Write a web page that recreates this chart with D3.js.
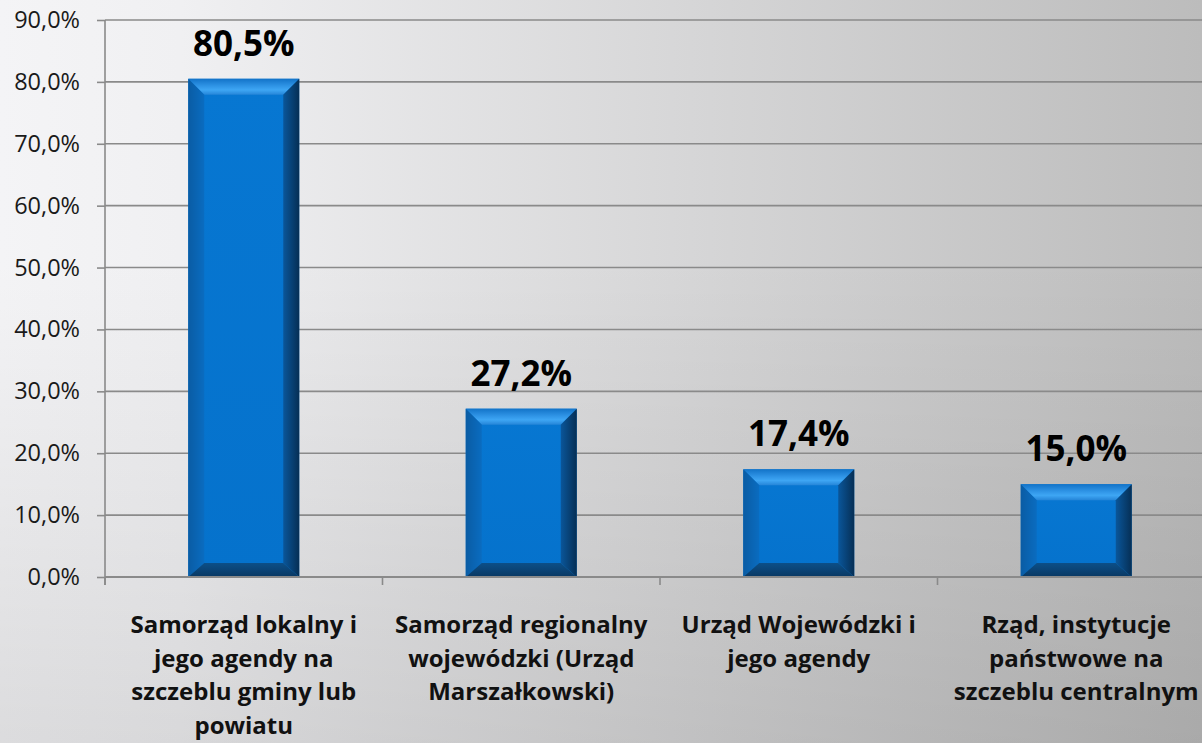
<!DOCTYPE html>
<html>
<head>
<meta charset="utf-8">
<script src="https://cdn.jsdelivr.net/npm/d3@7"></script>
<style>
  html, body { margin: 0; padding: 0; overflow: hidden; }
  svg { display: block; }
</style>
</head>
<body>
<svg id="chart" width="1202" height="743"></svg>
<script>
// ---- data ----
const categories = [
  "Samorząd lokalny i jego agendy na szczeblu gminy lub powiatu",
  "Samorząd regionalny wojewódzki (Urząd Marszałkowski)",
  "Urząd Wojewódzki i jego agendy",
  "Rząd, instytucje państwowe na szczeblu centralnym"
];
const categoryLabelLines = [
  ["Samorząd lokalny i", "jego agendy na", "szczeblu gminy lub", "powiatu"],
  ["Samorząd regionalny", "wojewódzki (Urząd", "Marszałkowski)"],
  ["Urząd Wojewódzki i", "jego agendy"],
  ["Rząd, instytucje", "państwowe na", "szczeblu centralnym"]
];
const values = [0.805, 0.272, 0.174, 0.150];
const yTicks = [0, 0.1, 0.2, 0.3, 0.4, 0.5, 0.6, 0.7, 0.8, 0.9];

// ---- layout ----
const W = 1202, H = 743;
const plot = { left: 105, right: 1215, top: 20, bottom: 577 };
const fmt = v => (v * 100).toFixed(1).replace(".", ",") + "%";

const svg = d3.select("#chart");
const defs = svg.append("defs");

// background gradients
const bgH = defs.append("linearGradient").attr("id", "bgH")
  .attr("x1", 0).attr("y1", 0).attr("x2", 1).attr("y2", 0);
bgH.append("stop").attr("offset", 0).attr("stop-color", "#f4f4f6");
bgH.append("stop").attr("offset", 0.15).attr("stop-color", "#f0f0f2");
bgH.append("stop").attr("offset", 1).attr("stop-color", "#bcbcbc");
const bgV = defs.append("linearGradient").attr("id", "bgV")
  .attr("x1", 0).attr("y1", 0).attr("x2", 0).attr("y2", 1);
bgV.append("stop").attr("offset", 0.35).attr("stop-color", "#000").attr("stop-opacity", 0);
bgV.append("stop").attr("offset", 1).attr("stop-color", "#000").attr("stop-opacity", 0.1);

svg.append("rect").attr("width", W).attr("height", H).attr("fill", "url(#bgH)");
svg.append("rect").attr("width", W).attr("height", H).attr("fill", "url(#bgV)");

// bevel gradients
function lg(id, horiz, stops) {
  const g = defs.append("linearGradient").attr("id", id)
    .attr("x1", 0).attr("y1", 0).attr("x2", horiz ? 1 : 0).attr("y2", horiz ? 0 : 1);
  stops.forEach(s => g.append("stop").attr("offset", s[0]).attr("stop-color", s[1]));
}
lg("bvTop", false, [[0, "#1273c8"], [0.45, "#2f94e6"], [0.7, "#3ea6f4"], [1, "#2585d8"]]);
lg("bvLeft", true, [[0, "#0a5ca4"], [1, "#0a6cc0"]]);
lg("bvRight", true, [[0, "#0a569a"], [1, "#062f55"]]);
lg("bvBottom", false, [[0, "#0c4f88"], [1, "#093863"]]);
lg("bvFace", false, [[0, "#0777d2"], [1, "#0572cc"]]);

// scales
const x = d3.scaleBand().domain(categories).range([plot.left, plot.right]).padding(0);
const y = d3.scaleLinear().domain([0, 0.9]).range([plot.bottom, plot.top]);

// gridlines
svg.append("g").selectAll("line").data(yTicks.filter(d => d > 0)).join("line")
  .attr("x1", plot.left).attr("x2", W)
  .attr("y1", d => y(d)).attr("y2", d => y(d))
  .attr("stroke", "#8a8a8a").attr("stroke-width", 1.6);

// y axis
const yAxis = svg.append("g").attr("transform", `translate(${plot.left},0)`)
  .call(d3.axisLeft(y).tickValues(yTicks).tickFormat(fmt).tickSize(8).tickPadding(17));
yAxis.select(".domain").attr("stroke", "#8a8a8a").attr("stroke-width", 1.6)
  .attr("d", `M0,${plot.top}V${plot.bottom + 8}`);
yAxis.selectAll(".tick line").attr("stroke", "#8a8a8a").attr("stroke-width", 1.6);
yAxis.selectAll(".tick text").attr("font-family", "'Open Sans', sans-serif")
  .attr("font-size", 23.5).attr("fill", "#1a1a1a");

// bars
const bw = x.bandwidth() * 0.4;
const bars = svg.append("g").selectAll("g").data(values).join("g");
bars.each(function(v, i) {
  const g = d3.select(this);
  const cx = x(categories[i]) + x.bandwidth() / 2;
  const x0 = cx - bw / 2, x1 = cx + bw / 2;
  const y0 = y(v), y1 = y(0);
  const b = Math.min(16, (y1 - y0) / 2);
  const bb = Math.min(14, (y1 - y0) / 2);
  const poly = pts => pts.map(p => p.join(",")).join(" ");
  g.append("rect").attr("x", x0).attr("y", y0).attr("width", x1 - x0).attr("height", y1 - y0)
    .attr("fill", "url(#bvFace)");
  g.append("polygon").attr("points", poly([[x0, y0], [x1, y0], [x1 - b, y0 + b], [x0 + b, y0 + b]]))
    .attr("fill", "url(#bvTop)");
  g.append("polygon").attr("points", poly([[x0, y0], [x0 + b, y0 + b], [x0 + b, y1 - bb], [x0, y1]]))
    .attr("fill", "url(#bvLeft)");
  g.append("polygon").attr("points", poly([[x1, y0], [x1, y1], [x1 - b, y1 - bb], [x1 - b, y0 + b]]))
    .attr("fill", "url(#bvRight)");
  g.append("polygon").attr("points", poly([[x0, y1], [x1, y1], [x1 - b, y1 - bb], [x0 + b, y1 - bb]]))
    .attr("fill", "url(#bvBottom)");
  g.append("text").attr("x", cx).attr("y", y0 - 23)
    .attr("text-anchor", "middle")
    .attr("font-family", "'Open Sans', sans-serif").attr("font-weight", 700)
    .attr("font-size", 35).attr("fill", "#000")
    .text(fmt(v));
});

// x axis line and ticks at band boundaries
svg.append("line").attr("x1", plot.left).attr("x2", W)
  .attr("y1", plot.bottom).attr("y2", plot.bottom)
  .attr("stroke", "#8a8a8a").attr("stroke-width", 1.8);
svg.append("g").selectAll("line").data(categories).join("line")
  .attr("x1", d => x(d)).attr("x2", d => x(d))
  .attr("y1", plot.bottom).attr("y2", plot.bottom + 8)
  .attr("stroke", "#8a8a8a").attr("stroke-width", 1.6);

// category labels
const catG = svg.append("g").selectAll("text").data(categories).join("text")
  .attr("text-anchor", "middle")
  .attr("font-family", "'Open Sans', sans-serif").attr("font-weight", 700)
  .attr("font-size", 24).attr("fill", "#111");
catG.each(function(d, i) {
  const t = d3.select(this);
  const cx = x(d) + x.bandwidth() / 2;
  categoryLabelLines[i].forEach((line, j) => {
    t.append("tspan").attr("x", cx).attr("y", 633 + j * 33.5).text(line);
  });
});
</script>
</body>
</html>
